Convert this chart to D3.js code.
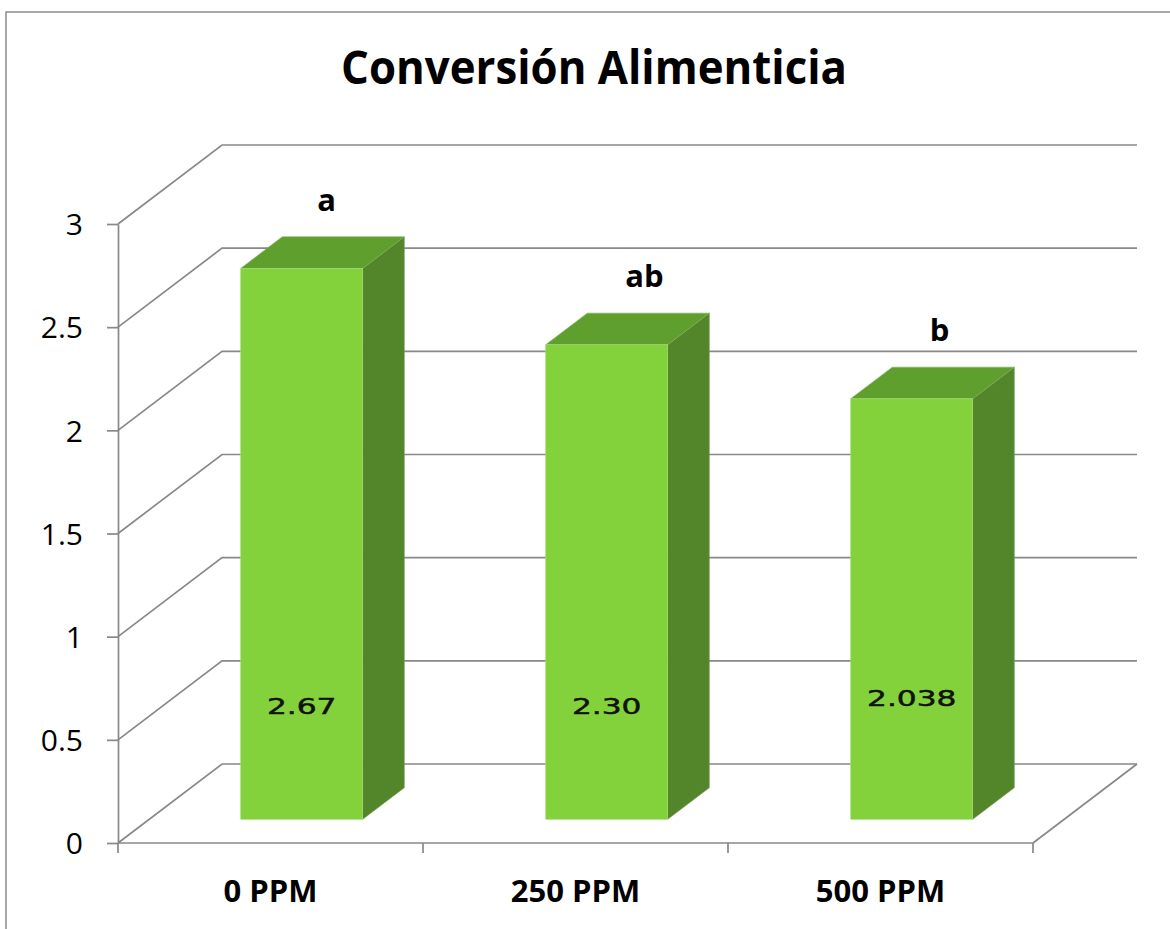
<!DOCTYPE html>
<html>
<head>
<meta charset="utf-8">
<script src="https://cdn.jsdelivr.net/npm/d3@7"></script>
<style>
  html, body { margin: 0; padding: 0; background: #ffffff; }
  svg { display: block; }
</style>
</head>
<body>
<svg id="chart" width="1170" height="929"></svg>
<script>
// Feed conversion by additive dose
const categories = ["0 PPM", "250 PPM", "500 PPM"];
const values = [2.67, 2.30, 2.038];
const valueLabels = ["2.67", "2.30", "2.038"];
const groupLetters = ["a", "ab", "b"];
const yTicks = [0, 0.5, 1, 1.5, 2, 2.5, 3];
const title = "Conversión Alimenticia";

const svg = d3.select("#chart");
const W = 1170, H = 929;

// Front plane of the 3-D box
const x = d3.scaleBand().domain(categories).range([118, 1033]).padding(0);
const y = d3.scaleLinear().domain([0, 3]).range([843, 224]);

// Oblique depth vector of the box (front plane -> back wall)
const DEPTH = { dx: 104, dy: -79 };
const proj = (px, v, d) => [px + d * DEPTH.dx, y(v) + d * DEPTH.dy];

const gridColor = "#888888";
const fontUI = "'Open Sans', 'Liberation Sans', sans-serif";

// Outer chart frame
svg.append("rect")
  .attr("x", 6).attr("y", 12)
  .attr("width", W + 40).attr("height", H + 40)
  .attr("fill", "#ffffff")
  .attr("stroke", "#8c8c8c").attr("stroke-width", 1.5);

// Title
svg.append("text")
  .attr("x", 594).attr("y", 84)
  .attr("text-anchor", "middle")
  .attr("font-family", fontUI)
  .attr("font-weight", 700)
  .attr("font-size", 46)
  .attr("textLength", 506)
  .attr("lengthAdjust", "spacingAndGlyphs")
  .attr("fill", "#000")
  .text(title);

const [x0, x1] = x.range();
const grid = svg.append("g").attr("stroke", gridColor).attr("stroke-width", 1.7).attr("fill", "none");

// Back-wall gridlines and side-wall diagonals
yTicks.forEach(v => {
  const a = proj(x0, v, 0), b = proj(x0, v, 1), c = proj(x1, v, 1);
  grid.append("path").attr("d", d3.line()([a, b, c]));
});

// Floor: right edge
grid.append("path").attr("d", d3.line()([proj(x1, 0, 0), proj(x1, 0, 1)]));

// Bars (front face sits at 0.3 of the depth, 0.4 deep)
const bw = x.bandwidth() * 0.4;
const dFront = 0.3, dDepth = 0.4;
const cFront = "#83d23c", cTop = "#5f9f2d", cSide = "#53862a";

const bars = svg.append("g");
categories.forEach((cat, i) => {
  const cx = x(cat) + x.bandwidth() / 2;
  const [lx, topY] = proj(cx - bw / 2, values[i], dFront);
  const [rx] = proj(cx + bw / 2, values[i], dFront);
  const [, baseY] = proj(cx, 0, dFront);
  const ox = dDepth * DEPTH.dx, oy = dDepth * DEPTH.dy;
  const g = bars.append("g");
  g.append("path")
    .attr("d", d3.line()([[rx, topY], [rx + ox, topY + oy], [rx + ox, baseY + oy], [rx, baseY]]) + "Z")
    .attr("fill", cSide).attr("stroke", "#6e9a4c").attr("stroke-width", 0.6);
  g.append("path")
    .attr("d", d3.line()([[lx, topY], [lx + ox, topY + oy], [rx + ox, topY + oy], [rx, topY]]) + "Z")
    .attr("fill", cTop).attr("stroke", "#7fb059").attr("stroke-width", 0.6);
  g.append("rect")
    .attr("x", lx).attr("y", topY)
    .attr("width", rx - lx).attr("height", baseY - topY)
    .attr("fill", cFront).attr("stroke", "#a6dd7a").attr("stroke-width", 0.6);

  // Value label inside the bar
  const labelLift = i === 2 ? 0.55 : 0.51;
  const [, ly] = proj(cx, labelLift, dFront);
  svg.append("text")
    .attr("transform", `translate(${(lx + rx) / 2},${ly}) scale(1.42,1)`)
    .attr("text-anchor", "middle")
    .attr("font-family", "'DejaVu Sans', sans-serif")
    .attr("font-size", 22)
    .attr("fill", "#111")
    .attr("stroke", "#111").attr("stroke-width", 0.5)
    .text(valueLabels[i]);

  // Significance letter above the bar
  const letterShift = [4, 17, 7][i];
  svg.append("text")
    .attr("x", (lx + rx) / 2 + ox / 2 + letterShift)
    .attr("y", topY + oy - 26)
    .attr("text-anchor", "middle")
    .attr("font-family", fontUI)
    .attr("font-weight", 700)
    .attr("font-size", 31)
    .attr("fill", "#000")
    .text(groupLetters[i]);
});

// Front value axis
const yAxis = svg.append("g").attr("transform", `translate(${x0},0)`)
  .call(d3.axisLeft(y).tickValues(yTicks).tickSize(11).tickSizeOuter(0).tickPadding(24)
    .tickFormat(d3.format("~g")));
yAxis.select(".domain").attr("stroke", gridColor).attr("stroke-width", 1.7);
yAxis.selectAll(".tick line").attr("stroke", gridColor).attr("stroke-width", 1.7);
yAxis.selectAll(".tick text")
  .attr("font-family", fontUI).attr("font-size", 30).attr("fill", "#000")
  .attr("dy", "0.36em");

// Front category axis
const xTickPos = [...categories.map(c => x(c)), x1];
const xAxisG = svg.append("g").attr("stroke", gridColor).attr("stroke-width", 1.7);
xAxisG.append("path").attr("d", d3.line()([[x0, y(0)], [x1, y(0)]]));
xTickPos.forEach(p => xAxisG.append("path").attr("d", d3.line()([[p, y(0)], [p, y(0) + 10]])));
svg.append("g").selectAll("text").data(categories).join("text")
  .attr("x", d => x(d) + x.bandwidth() / 2)
  .attr("y", 902)
  .attr("text-anchor", "middle")
  .attr("font-family", fontUI)
  .attr("font-weight", 700)
  .attr("font-size", 31)
  .attr("fill", "#000")
  .text(d => d);
</script>
</body>
</html>
